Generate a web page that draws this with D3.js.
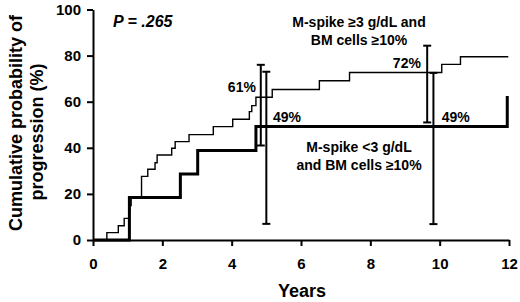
<!DOCTYPE html>
<html>
<head>
<meta charset="utf-8">
<script src="https://cdn.jsdelivr.net/npm/d3@7"></script>
<style>
  html, body { margin: 0; padding: 0; background: #fff; }
  svg { display: block; }
  text { font-family: "Liberation Sans", Arial, Helvetica, sans-serif; font-weight: bold; fill: #000; }
</style>
</head>
<body>
<svg id="chart" width="520" height="302"></svg>
<script>
// ---- data ----
const xTicks = [0, 2, 4, 6, 8, 10, 12];
const yTicks = [0, 20, 40, 60, 80, 100];

// M-spike >=3 g/dL and BM cells >=10% (thin line)
const highTimes  = [0, 0.40, 0.73, 0.90, 1.03, 1.06, 1.10, 1.40, 1.58, 1.79, 1.85, 2.27, 2.37, 2.77, 3.47, 4.03, 4.51, 4.58, 4.70, 5.17, 6.53, 7.40, 10.06, 10.60, 11.98];
const highValues = [0, 3.2, 6.2, 9.4, 12.0, 15.0, 18.6, 27.6, 30.7, 33.5, 36.9, 39.8, 42.7, 45.7, 49.2, 52.4, 55.7, 58.3, 61.9, 65.3, 69.1, 72.7, 76.2, 79.5, 79.5];

// M-spike <3 g/dL and BM cells >=10% (thick line)
const lowTimes  = [0, 1.05, 2.52, 3.02, 4.70, 11.95];
const lowValues = [0, 18.4, 28.6, 38.8, 49.2, 62.5];

// confidence intervals
const highCITimes = [4.84, 9.64];
const highCILow   = [41, 51];
const highCIHigh  = [76, 84.3];
const lowCITimes  = [5.0, 9.82];
const lowCILow    = [7, 6.9];
const lowCIHigh   = [73, 72.5];

// percent labels
const pctLabels = ["61%", "49%", "72%", "49%"];
const pctX      = [3.89, 5.19, 8.65, 10.06];
const pctY      = [64.2, 51.0, 74.6, 51.0];

const pText = "P = .265";
const highLabel = ["M-spike \u22653 g/dL and", "BM cells \u226510%"];
const lowLabel  = ["M-spike <3 g/dL", "and BM cells \u226510%"];
const xTitle = "Years";
const yTitle = ["Cumulative probability of", "progression (%)"];

// ---- chart ----
const svg = d3.select("#chart");
const x = d3.scaleLinear().domain([0, 12]).range([93, 509]);
const y = d3.scaleLinear().domain([0, 100]).range([240, 9.5]);

const xAxis = svg.append("g").attr("transform", "translate(0,240)")
  .call(d3.axisBottom(x).tickValues(xTicks).tickSize(6).tickSizeOuter(0).tickPadding(12));
const yAxis = svg.append("g").attr("transform", "translate(93,0)")
  .call(d3.axisLeft(y).tickValues(yTicks).tickSize(6).tickSizeOuter(0).tickPadding(6));
[xAxis, yAxis].forEach(a => {
  a.select(".domain").attr("stroke", "#000").attr("stroke-width", 2);
  a.selectAll(".tick line").attr("stroke", "#000").attr("stroke-width", 2);
  a.selectAll(".tick text").attr("font-size", 15).attr("font-weight", "bold")
    .attr("font-family", "Liberation Sans, Arial, sans-serif").attr("fill", "#000");
});

const line = d3.line().x(d => x(d[0])).y(d => y(d[1])).curve(d3.curveStepAfter);

svg.append("path")
  .attr("d", line(lowTimes.map((t, i) => [t, lowValues[i]])))
  .attr("fill", "none").attr("stroke", "#000").attr("stroke-width", 3);

svg.append("path")
  .attr("d", line(highTimes.map((t, i) => [t, highValues[i]])))
  .attr("fill", "none").attr("stroke", "#000").attr("stroke-width", 1.4);

function errorBars(times, lo, hi) {
  const g = svg.append("g").attr("stroke", "#000").attr("stroke-width", 2);
  times.forEach((t, i) => {
    g.append("line").attr("x1", x(t)).attr("x2", x(t)).attr("y1", y(lo[i])).attr("y2", y(hi[i]));
    g.append("line").attr("x1", x(t) - 4).attr("x2", x(t) + 4).attr("y1", y(lo[i])).attr("y2", y(lo[i]));
    g.append("line").attr("x1", x(t) - 4).attr("x2", x(t) + 4).attr("y1", y(hi[i])).attr("y2", y(hi[i]));
  });
}
errorBars(highCITimes, highCILow, highCIHigh);
errorBars(lowCITimes, lowCILow, lowCIHigh);

pctLabels.forEach((s, i) => {
  svg.append("text").attr("x", x(pctX[i])).attr("y", y(pctY[i]))
    .attr("font-size", 14).text(s);
});

svg.append("text").attr("x", 113).attr("y", 27).attr("font-size", 16)
  .attr("font-style", "italic").text(pText);

highLabel.forEach((s, i) => {
  svg.append("text").attr("x", 359).attr("y", 26.5 + i * 18.5)
    .attr("text-anchor", "middle").attr("font-size", 14).text(s);
});
lowLabel.forEach((s, i) => {
  svg.append("text").attr("x", 359).attr("y", 151.5 + i * 18.5)
    .attr("text-anchor", "middle").attr("font-size", 14).text(s);
});

svg.append("text").attr("x", 302).attr("y", 297).attr("text-anchor", "middle")
  .attr("font-size", 18).text(xTitle);

const yc = [123, 132];
const yb = [22, 43];
yTitle.forEach((s, i) => {
  svg.append("text").attr("transform", `translate(${yb[i]},${yc[i]}) rotate(-90)`)
    .attr("text-anchor", "middle").attr("font-size", 18).text(s);
});
</script>
</body>
</html>
